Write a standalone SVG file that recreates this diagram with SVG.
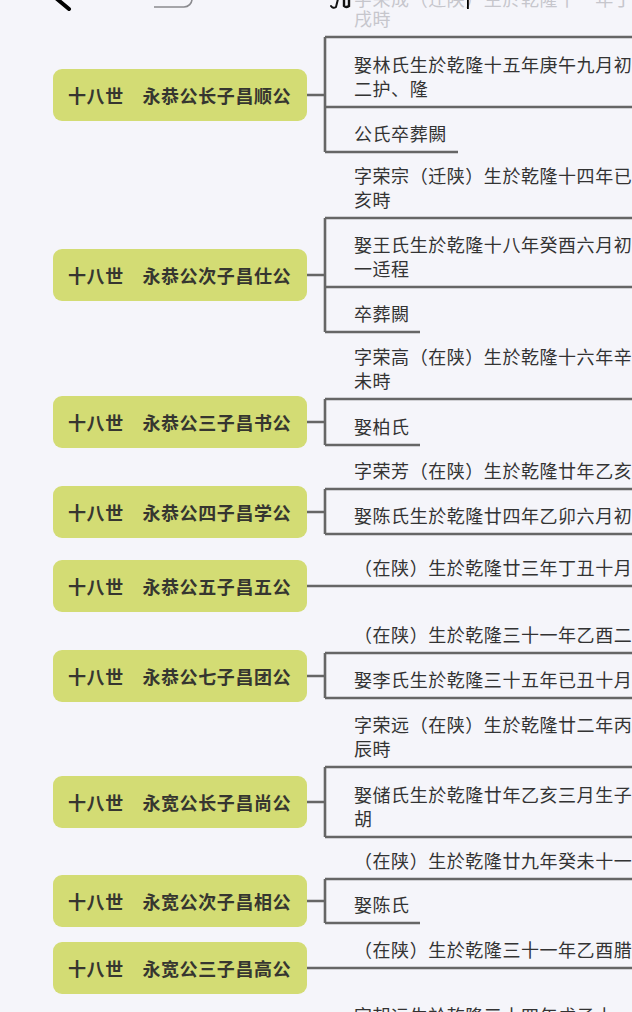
<svg xmlns="http://www.w3.org/2000/svg" width="632" height="1012" viewBox="0 0 632 1012">
<style>
.bg{fill:#f5f5fa}
.topic rect{fill:#d3dc74}
.topic text{font-family:'Noto Sans CJK SC','Noto Sans',sans-serif;font-size:18px;letter-spacing:0.6px;font-weight:600;fill:#363630}
.sub text{font-family:'Noto Sans CJK SC','Noto Sans',sans-serif;font-size:18px;letter-spacing:0.55px;fill:#333333}
.sub text.dim{fill:#c6c6cc}
#connectors path{fill:none;stroke:#666666;stroke-width:2.6;stroke-linecap:butt}
</style>
<rect class="bg" x="0" y="0" width="632" height="1012"/>

<g id="overlay">
  <path d="M57 -1 L69 9" stroke="#000" stroke-width="4" stroke-linecap="round" fill="none"/>
  <path d="M154 7 H184 A8 8 0 0 0 192 -1" stroke="#8a8a8e" stroke-width="1.6" fill="none"/>
</g>

<g id="connectors">
  <path d="M307 95 H325 M325 37 V152 M325 37 H632 M325 107 H632 M325 152 H458"/>
  <path d="M307 275 H325 M325 218 V332 M325 218 H632 M325 287 H632 M325 332 H420"/>
  <path d="M307 422 H325 M325 399 V445 M325 399 H632 M325 445 H420"/>
  <path d="M307 512 H325 M325 489 V534 M325 489 H632 M325 534 H632"/>
  <path d="M307 586 H632"/>
  <path d="M307 676 H325 M325 653 V698 M325 653 H632 M325 698 H632"/>
  <path d="M307 802 H325 M325 767 V837 M325 767 H632 M325 837 H632"/>
  <path d="M307 901 H325 M325 879 V923 M325 879 H632 M325 923 H420"/>
  <path d="M307 968 H632"/>
</g>

<g id="node1" class="topic"><rect x="53" y="69" width="254" height="52" rx="9"/><text x="68" y="103">十八世　永恭公长子昌顺公</text></g>
<g id="node2" class="topic"><rect x="53" y="249" width="254" height="52" rx="9"/><text x="68" y="283">十八世　永恭公次子昌仕公</text></g>
<g id="node3" class="topic"><rect x="53" y="396" width="254" height="52" rx="9"/><text x="68" y="430">十八世　永恭公三子昌书公</text></g>
<g id="node4" class="topic"><rect x="53" y="486" width="254" height="52" rx="9"/><text x="68" y="520">十八世　永恭公四子昌学公</text></g>
<g id="node5" class="topic"><rect x="53" y="560" width="254" height="52" rx="9"/><text x="68" y="594">十八世　永恭公五子昌五公</text></g>
<g id="node6" class="topic"><rect x="53" y="650" width="254" height="52" rx="9"/><text x="68" y="684">十八世　永恭公七子昌团公</text></g>
<g id="node7" class="topic"><rect x="53" y="776" width="254" height="52" rx="9"/><text x="68" y="810">十八世　永宽公长子昌尚公</text></g>
<g id="node8" class="topic"><rect x="53" y="875" width="254" height="52" rx="9"/><text x="68" y="909">十八世　永宽公次子昌相公</text></g>
<g id="node9" class="topic"><rect x="53" y="942" width="254" height="52" rx="9"/><text x="68" y="976">十八世　永宽公三子昌高公</text></g>

<g id="n1c1" class="sub"><text class="dim" x="354" y="6">字荣成（迁陕）生於乾隆十一年丁</text><text class="dim" x="354" y="26">戌時</text></g>
<g id="cursor">
  <path d="M331 6 Q333 9 336 7 L338 -1" stroke="#111" stroke-width="2" fill="none" stroke-linecap="round"/>
  <path d="M344 -1 V6 Q346 8 349 6 V-1" stroke="#111" stroke-width="2.4" fill="none"/>
  <rect x="467" y="0" width="1.8" height="9" fill="#000"/>
</g>
<g id="n1c2" class="sub"><text x="354" y="72">娶林氏生於乾隆十五年庚午九月初</text><text x="354" y="96">二护、隆</text></g>
<g id="n1c3" class="sub"><text x="354" y="141">公氏卒葬闕</text></g>

<g id="n2c1" class="sub"><text x="354" y="183">字荣宗（迁陕）生於乾隆十四年已</text><text x="354" y="207">亥時</text></g>
<g id="n2c2" class="sub"><text x="354" y="252">娶王氏生於乾隆十八年癸酉六月初</text><text x="354" y="276">一适程</text></g>
<g id="n2c3" class="sub"><text x="354" y="321">卒葬闕</text></g>

<g id="n3c1" class="sub"><text x="354" y="364">字荣高（在陕）生於乾隆十六年辛</text><text x="354" y="388">未時</text></g>
<g id="n3c2" class="sub"><text x="354" y="434">娶柏氏</text></g>

<g id="n4c1" class="sub"><text x="354" y="478">字荣芳（在陕）生於乾隆廿年乙亥</text></g>
<g id="n4c2" class="sub"><text x="354" y="523">娶陈氏生於乾隆廿四年乙卯六月初</text></g>

<g id="n5c1" class="sub"><text x="354" y="575">（在陕）生於乾隆廿三年丁丑十月</text></g>

<g id="n6c1" class="sub"><text x="354" y="642">（在陕）生於乾隆三十一年乙酉二</text></g>
<g id="n6c2" class="sub"><text x="354" y="687">娶李氏生於乾隆三十五年已丑十月</text></g>

<g id="n7c1" class="sub"><text x="354" y="732">字荣远（在陕）生於乾隆廿二年丙</text><text x="354" y="756">辰時</text></g>
<g id="n7c2" class="sub"><text x="354" y="802">娶储氏生於乾隆廿年乙亥三月生子</text><text x="354" y="826">胡</text></g>

<g id="n8c1" class="sub"><text x="354" y="868">（在陕）生於乾隆廿九年癸未十一</text></g>
<g id="n8c2" class="sub"><text x="354" y="912">娶陈氏</text></g>

<g id="n9c1" class="sub"><text x="354" y="957">（在陕）生於乾隆三十一年乙酉腊</text></g>

<g id="n10c1" class="sub"><text x="354" y="1023">字朝远生於乾隆三十四年戊子十一</text></g>
</svg>
